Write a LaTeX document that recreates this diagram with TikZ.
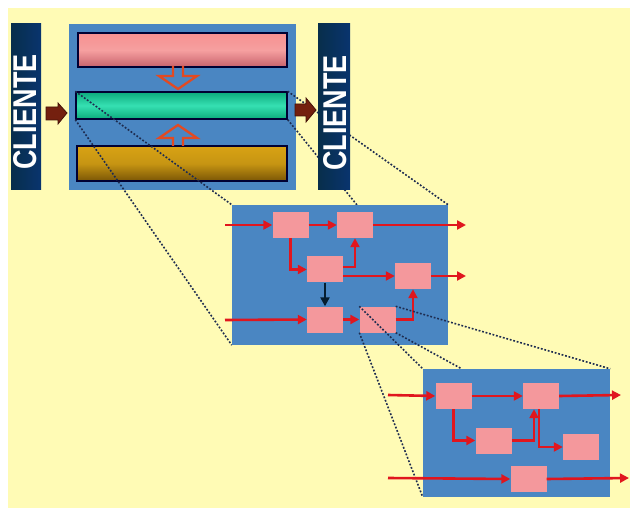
\documentclass[tikz,border=0pt]{standalone}
\usepackage{fontspec}
\setmainfont{Liberation Sans}
\usetikzlibrary{arrows.meta,calc}

\definecolor{paper}{HTML}{FFFBB5}
\definecolor{panel}{HTML}{4A86C2}
\definecolor{navy}{HTML}{0A3A5E}
\definecolor{boxpink}{HTML}{F4989C}
\definecolor{flow}{HTML}{E0161E}
\definecolor{hollow}{HTML}{E24A22}
\definecolor{proj}{HTML}{1E2C50}
\definecolor{brownarr}{HTML}{74200F}
\definecolor{pinkhi}{HTML}{F6A0A0}
\definecolor{pinklo}{HTML}{C8626C}
\definecolor{tealhi}{HTML}{36E0B2}
\definecolor{teallo}{HTML}{0CAA7C}
\definecolor{goldhi}{HTML}{D8A214}
\definecolor{goldlo}{HTML}{7A5606}

\tikzset{
  panelbox/.style={fill=panel, draw=none, inner sep=0pt},
  clientbar/.style={shading=axis, left color=navy!80!black, right color=navy!90!blue, shading angle=90, inner sep=0pt},
  clienttext/.style={rotate=90, text=white, font=\bfseries\fontsize{27}{27}\selectfont},
  tube/.style={draw=black!80!blue, line width=1.4pt, inner sep=0pt, shading=axis, shading angle=0},
  stage/.style={fill=boxpink, draw=none, minimum width=36pt, minimum height=26pt, inner sep=0pt},
  flowline/.style={draw=flow, line width=2.6pt, -{Triangle[length=9pt,width=9pt]}},
  ctrlline/.style={draw=navy!50!black, line width=2.6pt, -{Triangle[length=9pt,width=9pt]}},
  projline/.style={draw=proj, line width=1.6pt, dash pattern=on 1.8pt off 1.8pt},
  hollowarrow/.style={draw=hollow, line width=2.3pt, line join=miter},
  fatarrow/.style={fill=brownarr, draw=brownarr!60!black, line width=0.8pt}
}

\begin{document}
\begin{tikzpicture}[x=1pt, y=-1pt]
  % page and pale background
  \fill[white] (0,0) rectangle (630,508);
  \useasboundingbox (0,0) rectangle (630,508);
  \fill[paper] (8,8) rectangle (630,508);

  % layered system
  \node[panelbox, minimum width=227pt, minimum height=166pt] (sys) at (182.5,107) {};
  \node[tube, minimum width=209pt, minimum height=34pt,
        top color=pinkhi!90!red, bottom color=pinklo, middle color=pinkhi] (top) at (182.5,50) {};
  \node[tube, minimum width=211pt, minimum height=27pt,
        top color=teallo, bottom color=teallo, middle color=tealhi] (mid) at (181.5,105.5) {};
  \node[tube, minimum width=210pt, minimum height=35pt,
        top color=goldhi, bottom color=goldlo, middle color=goldhi!92!black] (low) at (182,163.5) {};

  % hollow arrows between the tubes
  \draw[hollowarrow] (173,66) -- (173,76) -- (159,76) -- (178,89) -- (197,76) -- (183,76) -- (183,66);
  \draw[hollowarrow] (173,146) -- (173,138) -- (159,138) -- (178,125) -- (197,138) -- (183,138) -- (183,146);

  % zoom lines from the middle tube
  \coordinate (hideA) at (357,205);
  \node[panelbox, minimum width=216pt, minimum height=140pt] (proc) at (340,275) {};
  \draw[projline] (mid.north west) -- (proc.north west);
  \draw[projline] (mid.south west) -- (proc.south west);
  \draw[projline] (mid.north east) -- (proc.north east);
  \draw[projline] (mid.south east) -- (hideA);

  % client bars
  \node[clientbar, minimum width=30pt, minimum height=166pt] (cl) at (26,107) {};
  \node[clientbar, minimum width=32pt, minimum height=166pt] (cr) at (334,107) {};
  \node[clienttext] at (25.5,112) {\scalebox{1}[1.22]{CLIENTE}};
  \node[clienttext] at (335.5,113) {\scalebox{1}[1.22]{CLIENTE}};

  % fat arrows in and out
  \draw[fatarrow] (46,107) -- (58,107) -- (58,103) -- (67,113) -- (58,124) -- (58,120) -- (46,120) -- cycle;
  \draw[fatarrow] (295,104) -- (306,104) -- (306,98) -- (316,110) -- (306,122) -- (306,116) -- (295,116) -- cycle;

  % process panel
  \fill[panel] (proc.north west) rectangle (proc.south east);
  \node[stage] (b1) at (290.5,225) {};
  \node[stage] (b2) at (355,225) {};
  \node[stage] (b3) at (325,269.5) {};
  \node[stage] (b4) at (413,276) {};
  \node[stage] (b5) at (325,319.5) {};
  \node[stage] (b6) at (377.5,319.5) {};
  \coordinate (i1) at (225,225);
  \coordinate (o1) at (466,225);
  \coordinate (o2) at (466,276);
  \coordinate (i2) at (225,320);
  \draw[flowline] (i1) -- (b1.west);
  \draw[flowline] (b1.east) -- (b2.west);
  \draw[flowline] (b2.east) -- (o1);
  \draw[flowline] (b1.south) |- (b3.west);
  \draw[flowline] ([yshift=2.5pt]b3.east) -| (b2.south);
  \draw[flowline] (b3.east |- b4.west) -- (b4.west);
  \draw[flowline] (b4.east) -- (o2);
  \draw[ctrlline] (b3.south) -- (b5.north);
  \draw[flowline] (i2) -- (b5.west);
  \draw[flowline] (b5.east) -- (b6.west);
  \draw[flowline] (b6.east) -| (b4.south);

  % zoom lines from the last stage
  \node[panelbox, minimum width=187pt, minimum height=128pt] (sub) at (516.5,433) {};
  \coordinate (hideB) at (462,369);
  \draw[projline] (b6.north west) -- (sub.north west);
  \draw[projline] (b6.south west) -- (sub.south west);
  \draw[projline] (b6.north east) -- (sub.north east);
  \draw[projline] (b6.south east) -- (hideB);

  % detail panel
  \fill[panel] (sub.north west) rectangle (sub.south east);
  \node[stage] (c1) at (453.5,396) {};
  \node[stage] (c2) at (541,396) {};
  \node[stage] (c3) at (493.5,440.5) {};
  \node[stage] (c4) at (581,447) {};
  \node[stage] (c5) at (528.5,479) {};
  \coordinate (i3) at (388,395);
  \coordinate (o3) at (621,395);
  \coordinate (i4) at (388,478);
  \coordinate (o4) at (629,478);
  \draw[flowline] (i3) -- (c1.west);
  \draw[flowline] (c1.east) -- (c2.west);
  \draw[flowline] (c2.east) -- (o3);
  \draw[flowline] (c1.south) |- (c3.west);
  \draw[flowline] (c3.east) -| ([xshift=-7pt]c2.south);
  \draw[flowline] ([xshift=-2pt]c2.south) |- (c4.west);
  \draw[flowline] (i4) -- (c5.west);
  \draw[flowline] (c5.east) -- (o4);
\end{tikzpicture}
\end{document}
